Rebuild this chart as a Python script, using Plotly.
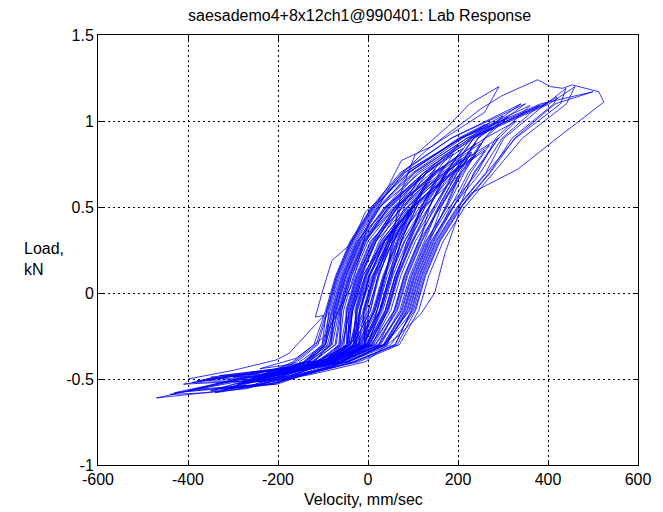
import plotly.graph_objects as go

# ---- data: one damper cycle per line ----
velocity_mm_s = [
    -250, -172, -78, 3, 46, 68, 100, 136, 175, 200, 150, 60, 0, -32, -54, -63, -112, -150,
    -180, -62, 23, 76, 98, 130, 174, 207, 250, 156, 62, 10, -22, -44, -43, -88, -200,
    -320, -207, -99, -21, 16, 38, 70, 100, 150, 56, -10, -42, -64, -79, -131, -250,
    -400, -247, -34, 61, 96, 118, 150, 198, 262, 302, 400, 208, 82, 18, -30, -62, -84, -101, -136,
    -120, -18, 26, 48, 66, 100, 34, -12, -34, -42, -97,
    -300, -197, -86, 2, 44, 66, 98, 146, 195, 244, 300, 206, 89, 10, -38, -70, -92, -102, -143,
    -220, -55, 26, 71, 93, 125, 157, 199, 220, 185, 99, 35, 3, -19, -26, -75,
    -380, -237, -118, -41, -9, 13, 45, 74, 120, 42, -25, -57, -79, -99, -152,
    -150, -76, 7, 61, 83, 115, 137, 180, 79, 5, -27, -49, -47, -94,
    -340, -217, -30, 65, 106, 128, 160, 208, 272, 326, 416, 500, 384, 204, 92, 28, -20, -52, -74, -85, -120,
    -90, -19, 20, 37, 59, 70, 51, 9, -18, -31, -75,
    -430, -262, -92, -9, 21, 43, 75, 123, 173, 229, 260, 201, 91, 13, -35, -67, -89, -111, -158,
    -260, -45, 41, 88, 110, 142, 190, 238, 290, 330, 260, 146, 66, 18, -14, -36, -41, -85,
    -200, -99, -24, 14, 36, 63, 96, 130, 76, 13, -24, -46, -60, -115,
    -280, -187, -62, 28, 74, 96, 128, 176, 214, 259, 280, 237, 116, 26, -22, -54, -76, -82, -122,
    -160, -43, 38, 91, 113, 145, 184, 223, 260, 191, 102, 45, 13, -9, -8, -57,
    -60, -14, 28, 53, 73, 110, 47, 3, -16, -26, -70,
    -470, -380, -282, -83, 0, 26, 48, 80, 128, 192, 245, 350, 185, 72, 8, -40, -72, -94, -120, -167,
    -300, -197, -49, 37, 83, 105, 137, 172, 204, 230, 164, 68, 7, -25, -47, -53, -97,
    -240, -107, -28, 11, 33, 65, 98, 142, 160, 132, 48, -15, -47, -69, -82, -133,
    -350, -222, -28, 60, 98, 120, 152, 200, 264, 328, 428, 440, 396, 226, 124, 60, 12, -20, -42, -56, -98,
    -130, -3, 43, 65, 87, 118, 140, 102, 37, -5, -27, -33, -86,
    -360, -227, -90, -5, 33, 55, 87, 135, 183, 235, 270, 210, 100, 21, -27, -59, -81, -96, -142,
    -100, -33, 6, 22, 44, 60, 36, -6, -34, -47, -90,
    -270, -182, -47, 41, 86, 108, 140, 188, 250, 298, 380, 228, 110, 44, -4, -36, -58, -65, -107,
    -410, -252, -83, -1, 28, 50, 82, 123, 162, 190, 126, 37, -18, -50, -72, -95, -143,
    -190, -43, 35, 81, 103, 135, 163, 200, 123, 55, 23, 1, -5, -57,
    -230, -71, 8, 51, 73, 105, 151, 192, 240, 152, 65, 15, -17, -39, -48, -99,
    -340, -240, -120, -6, 67, 118, 148, 171, 207, 229, 288, 333, 420, 524, 513, 454, 432, 406, 377, 351, 300, 250, 226, 180, 130, 85, 50, 0, -35, -95, -160, -240,
    -70, -31, 5, 25, 49, 70, 41, 1, -23, -39, -80,
    -210, -67, 12, 58, 80, 112, 147, 190, 210, 174, 89, 28, -4, -26, -32, -83,
    -390, -242, -64, 24, 59, 81, 113, 161, 211, 260, 310, 220, 103, 25, -23, -55, -77, -94, -136,
    -270, -182, -85, -3, 38, 60, 92, 120, 159, 170, 149, 60, -8, -40, -62, -73, -121,
    -140, -48, 38, 101, 123, 155, 203, 235, 290, 169, 73, 25, -7, -29, -18, -62,
    -330, -212, -74, 5, 40, 62, 90, 118, 150, 86, 18, -18, -40, -57, -108,
    -250, -43, 51, 104, 126, 158, 206, 270, 320, 413, 420, 397, 220, 104, 40, -8, -40, -62, -61, -97,
    -180, -114, -39, 1, 23, 55, 100, 149, 200, 125, 46, -5, -37, -59, -71, -126,
    -110, 18, 66, 88, 120, 159, 206, 240, 188, 107, 50, 18, -4, -8, -60,
    -150, -97, -23, 16, 37, 57, 90, 33, -11, -34, -47, -103,
    -440, -360, -267, -97, -15, 13, 35, 67, 115, 178, 235, 340, 185, 76, 11, -37, -69, -91, -115, -163,
    -200, -74, 1, 39, 61, 93, 126, 170, 100, 37, 5, -17, -31, -86,
    -290, -192, -21, 70, 113, 135, 167, 215, 279, 343, 441, 460, 403, 231, 129, 65, 17, -15, -37, -46, -85,
    -350, -232, -113, -38, -6, 16, 48, 81, 130, 51, -12, -44, -66, -86, -141,
    -160, -64, 16, 64, 86, 118, 156, 198, 230, 174, 88, 30, -2, -24, -28, -78,
    -310, -202, -59, 34, 79, 101, 133, 181, 243, 284, 360, 206, 81, 15, -33, -65, -87, -94, -131,
    -230, -83, -10, 26, 48, 73, 108, 120, 98, 37, 3, -19, -40, -97,
    -120, 36, 93, 115, 147, 190, 228, 270, 186, 96, 43, 11, -11, -6, -55,
    -380, -237, -75, 10, 43, 65, 97, 136, 172, 210, 132, 40, -17, -49, -71, -90, -135,
    -80, -9, 30, 52, 74, 100, 56, 14, -8, -21, -75,
    -290, -190, -80, -20, 10, 40, 60, 75, 104, 178, 226, 291, 259, 200, 140, 74, 45, 23, -6, -36, -80, -100, -117, -98, -130, -175, -205, -300, -400,
]

load_kN = [
    -0.505, -0.48, -0.40, -0.30, -0.10, 0.10, 0.30, 0.50, 0.70, 0.80, 0.70, 0.50, 0.30, 0.10, -0.10, -0.30, -0.40, -0.42,
    -0.465, -0.40, -0.30, -0.10, 0.10, 0.30, 0.50, 0.70, 0.87, 0.70, 0.50, 0.30, 0.10, -0.10, -0.30, -0.40, -0.46,
    -0.56, -0.53, -0.40, -0.30, -0.10, 0.10, 0.30, 0.50, 0.72, 0.50, 0.30, 0.10, -0.10, -0.30, -0.40, -0.47,
    -0.57, -0.535, -0.40, -0.30, -0.10, 0.10, 0.30, 0.50, 0.70, 0.90, 1.11, 0.90, 0.70, 0.50, 0.30, 0.10, -0.10, -0.30, -0.40,
    -0.42, -0.30, -0.10, 0.10, 0.30, 0.51, 0.30, 0.10, -0.10, -0.30, -0.40,
    -0.49, -0.48, -0.40, -0.30, -0.10, 0.10, 0.30, 0.50, 0.70, 0.90, 1.03, 0.90, 0.70, 0.50, 0.30, 0.10, -0.10, -0.30, -0.40,
    -0.47, -0.40, -0.30, -0.10, 0.10, 0.30, 0.50, 0.70, 0.78, 0.70, 0.50, 0.30, 0.10, -0.10, -0.30, -0.40,
    -0.51, -0.50, -0.40, -0.30, -0.10, 0.10, 0.30, 0.50, 0.69, 0.50, 0.30, 0.10, -0.10, -0.30, -0.40,
    -0.45, -0.40, -0.30, -0.10, 0.10, 0.30, 0.50, 0.72, 0.50, 0.30, 0.10, -0.10, -0.30, -0.40,
    -0.58, -0.53, -0.40, -0.30, -0.10, 0.10, 0.30, 0.50, 0.70, 0.90, 1.10, 1.17, 1.10, 0.90, 0.70, 0.50, 0.30, 0.10, -0.10, -0.30, -0.40,
    -0.39, -0.30, -0.10, 0.10, 0.30, 0.37, 0.30, 0.10, -0.10, -0.30, -0.38,
    -0.58, -0.54, -0.40, -0.30, -0.10, 0.10, 0.30, 0.50, 0.70, 0.90, 0.98, 0.90, 0.70, 0.50, 0.30, 0.10, -0.10, -0.30, -0.40,
    -0.50, -0.40, -0.30, -0.10, 0.10, 0.30, 0.50, 0.70, 0.90, 1.00, 0.90, 0.70, 0.50, 0.30, 0.10, -0.10, -0.30, -0.40,
    -0.48, -0.40, -0.30, -0.10, 0.10, 0.30, 0.50, 0.64, 0.50, 0.30, 0.10, -0.10, -0.30, -0.40,
    -0.52, -0.50, -0.40, -0.30, -0.10, 0.10, 0.30, 0.50, 0.70, 0.90, 0.96, 0.90, 0.70, 0.50, 0.30, 0.10, -0.10, -0.30, -0.40,
    -0.44, -0.40, -0.30, -0.10, 0.10, 0.30, 0.50, 0.70, 0.83, 0.70, 0.50, 0.30, 0.10, -0.10, -0.30, -0.40,
    -0.37, -0.30, -0.10, 0.10, 0.30, 0.51, 0.30, 0.10, -0.10, -0.30, -0.38,
    -0.61, -0.585, -0.555, -0.40, -0.30, -0.10, 0.10, 0.30, 0.50, 0.70, 0.90, 1.10, 0.90, 0.70, 0.50, 0.30, 0.10, -0.10, -0.30, -0.40,
    -0.55, -0.52, -0.40, -0.30, -0.10, 0.10, 0.30, 0.50, 0.70, 0.82, 0.70, 0.50, 0.30, 0.10, -0.10, -0.30, -0.40,
    -0.50, -0.40, -0.30, -0.10, 0.10, 0.30, 0.50, 0.70, 0.76, 0.70, 0.50, 0.30, 0.10, -0.10, -0.30, -0.40,
    -0.57, -0.53, -0.40, -0.30, -0.10, 0.10, 0.30, 0.50, 0.70, 0.90, 1.10, 1.19, 1.10, 0.90, 0.70, 0.50, 0.30, 0.10, -0.10, -0.30, -0.40,
    -0.43, -0.30, -0.10, 0.10, 0.30, 0.50, 0.60, 0.50, 0.30, 0.10, -0.10, -0.30, -0.40,
    -0.50, -0.49, -0.40, -0.30, -0.10, 0.10, 0.30, 0.50, 0.70, 0.90, 0.99, 0.90, 0.70, 0.50, 0.30, 0.10, -0.10, -0.30, -0.40,
    -0.40, -0.30, -0.10, 0.10, 0.30, 0.39, 0.30, 0.10, -0.10, -0.30, -0.38,
    -0.52, -0.50, -0.40, -0.30, -0.10, 0.10, 0.30, 0.50, 0.70, 0.90, 1.09, 0.90, 0.70, 0.50, 0.30, 0.10, -0.10, -0.30, -0.40,
    -0.53, -0.51, -0.40, -0.30, -0.10, 0.10, 0.30, 0.50, 0.70, 0.81, 0.70, 0.50, 0.30, 0.10, -0.10, -0.30, -0.40,
    -0.45, -0.40, -0.30, -0.10, 0.10, 0.30, 0.50, 0.68, 0.50, 0.30, 0.10, -0.10, -0.30, -0.40,
    -0.49, -0.40, -0.30, -0.10, 0.10, 0.30, 0.50, 0.70, 0.87, 0.70, 0.50, 0.30, 0.10, -0.10, -0.30, -0.40,
    -0.56, -0.53, -0.47, -0.40, -0.25, -0.12, 0.00, 0.23, 0.50, 0.58, 0.66, 0.72, 0.90, 1.11, 1.17, 1.21, 1.19, 1.20, 1.24, 1.21, 1.15, 1.07, 1.02, 0.93, 0.83, 0.72, 0.62, 0.40, 0.05, -0.25, -0.38, -0.44,
    -0.38, -0.30, -0.10, 0.10, 0.30, 0.41, 0.30, 0.10, -0.10, -0.30, -0.38,
    -0.46, -0.40, -0.30, -0.10, 0.10, 0.30, 0.50, 0.70, 0.78, 0.70, 0.50, 0.30, 0.10, -0.10, -0.30, -0.40,
    -0.52, -0.51, -0.40, -0.30, -0.10, 0.10, 0.30, 0.50, 0.70, 0.90, 1.02, 0.90, 0.70, 0.50, 0.30, 0.10, -0.10, -0.30, -0.40,
    -0.51, -0.49, -0.40, -0.30, -0.10, 0.10, 0.30, 0.50, 0.70, 0.74, 0.70, 0.50, 0.30, 0.10, -0.10, -0.30, -0.40,
    -0.43, -0.40, -0.30, -0.10, 0.10, 0.30, 0.50, 0.70, 0.90, 0.70, 0.50, 0.30, 0.10, -0.10, -0.30, -0.40,
    -0.48, -0.47, -0.40, -0.30, -0.10, 0.10, 0.30, 0.50, 0.66, 0.50, 0.30, 0.10, -0.10, -0.30, -0.40,
    -0.50, -0.40, -0.30, -0.10, 0.10, 0.30, 0.50, 0.70, 0.90, 1.10, 1.14, 1.10, 0.90, 0.70, 0.50, 0.30, 0.10, -0.10, -0.30, -0.40,
    -0.46, -0.40, -0.30, -0.10, 0.10, 0.30, 0.50, 0.70, 0.86, 0.70, 0.50, 0.30, 0.10, -0.10, -0.30, -0.40,
    -0.41, -0.30, -0.10, 0.10, 0.30, 0.50, 0.70, 0.80, 0.70, 0.50, 0.30, 0.10, -0.10, -0.30, -0.40,
    -0.44, -0.40, -0.30, -0.10, 0.10, 0.30, 0.49, 0.30, 0.10, -0.10, -0.30, -0.40,
    -0.59, -0.58, -0.555, -0.40, -0.30, -0.10, 0.10, 0.30, 0.50, 0.70, 0.90, 1.10, 0.90, 0.70, 0.50, 0.30, 0.10, -0.10, -0.30, -0.40,
    -0.47, -0.40, -0.30, -0.10, 0.10, 0.30, 0.50, 0.68, 0.50, 0.30, 0.10, -0.10, -0.30, -0.40,
    -0.53, -0.50, -0.40, -0.30, -0.10, 0.10, 0.30, 0.50, 0.70, 0.90, 1.10, 1.20, 1.10, 0.90, 0.70, 0.50, 0.30, 0.10, -0.10, -0.30, -0.40,
    -0.49, -0.48, -0.40, -0.30, -0.10, 0.10, 0.30, 0.50, 0.70, 0.50, 0.30, 0.10, -0.10, -0.30, -0.40,
    -0.45, -0.40, -0.30, -0.10, 0.10, 0.30, 0.50, 0.70, 0.81, 0.70, 0.50, 0.30, 0.10, -0.10, -0.30, -0.40,
    -0.55, -0.53, -0.40, -0.30, -0.10, 0.10, 0.30, 0.50, 0.70, 0.90, 1.09, 0.90, 0.70, 0.50, 0.30, 0.10, -0.10, -0.30, -0.40,
    -0.48, -0.40, -0.30, -0.10, 0.10, 0.30, 0.50, 0.58, 0.50, 0.30, 0.10, -0.10, -0.30, -0.40,
    -0.42, -0.30, -0.10, 0.10, 0.30, 0.50, 0.70, 0.86, 0.70, 0.50, 0.30, 0.10, -0.10, -0.30, -0.40,
    -0.56, -0.53, -0.40, -0.30, -0.10, 0.10, 0.30, 0.50, 0.70, 0.84, 0.70, 0.50, 0.30, 0.10, -0.10, -0.30, -0.40,
    -0.39, -0.30, -0.10, 0.10, 0.30, 0.48, 0.30, 0.10, -0.10, -0.30, -0.39,
    -0.53, -0.49, -0.43, -0.35, -0.20, 0.10, 0.40, 0.60, 0.80, 0.97, 1.10, 1.20, 1.05, 0.95, 0.85, 0.77, 0.62, 0.54, 0.47, 0.29, 0.19, 0.02, -0.14, -0.13, -0.22, -0.35, -0.39, -0.45, -0.50,
]

x_tick_values = [-600, -400, -200, 0, 200, 400, 600]
x_tick_labels = ["-600", "-400", "-200", "0", "200", "400", "600"]
y_tick_values = [-1, -0.5, 0, 0.5, 1, 1.5]
y_tick_labels = ["-1", "-0.5", "0", "0.5", "1", "1.5"]

title_text = "saesademo4+8x12ch1@990401: Lab Response"
x_label = "Velocity, mm/sec"
y_label = "Load,<br>kN"

assert len(velocity_mm_s) == len(load_kN), (len(velocity_mm_s), len(load_kN))

FONT = "Liberation Sans, Arial, Helvetica, sans-serif"

fig = go.Figure(
    go.Scatter(
        x=velocity_mm_s,
        y=load_kN,
        mode="lines",
        line=dict(color="#0000ff", width=0.8),
        hoverinfo="skip",
        showlegend=False,
    )
)

axis_common = dict(
    showline=True,
    linecolor="black",
    linewidth=1,
    mirror="ticks",
    ticks="inside",
    ticklen=5,
    tickcolor="black",
    showgrid=True,
    gridcolor="black",
    gridwidth=1,
    griddash="2px,3px",
    zeroline=False,
    tickfont=dict(family=FONT, size=16, color="black"),
    fixedrange=True,
)

# the page adds an 8px body margin, so the figure is 8px smaller and margins shifted
fig.update_layout(
    width=655,
    height=504,
    margin=dict(l=90, r=22, t=27, b=47),
    paper_bgcolor="white",
    plot_bgcolor="white",
    xaxis=dict(range=[-600, 600], tickmode="array", tickvals=x_tick_values,
               ticktext=x_tick_labels, **axis_common),
    yaxis=dict(range=[-1, 1.5], tickmode="array", tickvals=y_tick_values,
               ticktext=y_tick_labels, **axis_common),
    font=dict(family=FONT, size=16, color="black"),
    annotations=[
        dict(text=title_text, xref="paper", yref="paper", x=0.484, y=(465 - 16) / 430,
             xanchor="center", yanchor="middle", showarrow=False,
             font=dict(family=FONT, size=16, color="black")),
        dict(text=x_label, xref="paper", yref="paper", x=0.492, y=-35 / 430,
             xanchor="center", yanchor="middle", showarrow=False,
             font=dict(family=FONT, size=16, color="black")),
        dict(text=y_label, xref="paper", yref="paper", x=-76 / 543, y=(465 - 259) / 430,
             xanchor="left", yanchor="middle", align="left", showarrow=False,
             font=dict(family=FONT, size=16, color="black")),
    ],
)

fig.write_html("out.html")
